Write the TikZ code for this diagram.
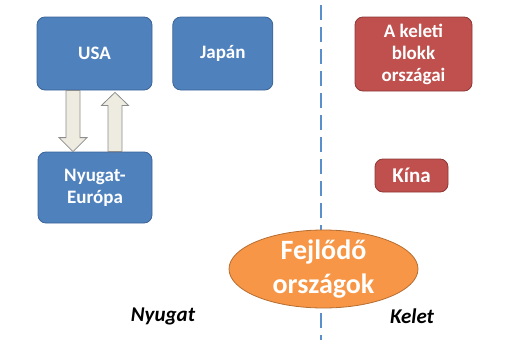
\documentclass[tikz,border=0pt]{standalone}
\usepackage{fontspec}
\setmainfont{Carlito}
\usepackage{xcolor}
\usetikzlibrary{positioning,calc,shapes.geometric}

\definecolor{boxblue}{HTML}{4F81BD}
\definecolor{boxblueline}{HTML}{3A6497}
\definecolor{boxred}{HTML}{C0504D}
\definecolor{boxredline}{HTML}{8C3836}
\definecolor{ovalorange}{HTML}{F79646}
\definecolor{ovalline}{HTML}{B66D31}
\definecolor{arrfill}{HTML}{EEECE1}
\definecolor{arrline}{HTML}{8C8C8C}
\definecolor{divblue}{HTML}{5B8FCB}

\begin{document}
\begin{tikzpicture}[x=1pt, y=-1pt, node distance=0pt]
    \tikzset{
      blk/.style={draw=boxblueline, fill=boxblue, rounded corners=8pt,
                  line width=0.8pt, text=white, align=center, inner sep=2pt,
                  font=\bfseries\fontsize{19}{22}\selectfont},
      redblk/.style={blk, draw=boxredline, fill=boxred},
      oval/.style={ellipse, draw=ovalline, fill=ovalorange, line width=0.8pt,
                   text=white, align=center, inner xsep=0pt, inner ysep=-8pt,
                   font=\bfseries\fontsize{28}{34}\selectfont},
      side/.style={font=\bfseries\itshape\fontsize{21}{24}\selectfont},
      blockarr/.style={draw=arrline, fill=arrfill, line width=0.8pt},
      divider/.style={draw=divblue, line width=1.6pt, dash pattern=on 15pt off 7pt},
    }
    \useasboundingbox (0,0) rectangle (515,340);

    % dividing line west / east
    \coordinate (divtop) at (321,5);
    \coordinate (divbot) at (321,340);
    \draw[divider] (divtop) -- (divbot);

    \node[blk, minimum width=115pt, minimum height=73pt] (usa) at (94.5,53.5) {USA};
    \node[blk, minimum width=100pt, minimum height=73pt, right=20pt of usa] (japan) {Japán};
    \node[blk, minimum width=114pt, minimum height=71pt] (nyeu) at (95,187.5) {Nyugat-\\Európa};

    \node[redblk, minimum width=117pt, minimum height=74pt] (keleti) at (413.5,54) {A keleti\\blokk\\országai};
    \node[redblk, minimum width=73pt, minimum height=33pt,
          font=\bfseries\fontsize{21}{24}\selectfont] (kina) at (411.5,175.5) {Kína};

    \node[oval, minimum width=189pt, minimum height=78pt] (fejl) at (323.5,269) {Fejlődő\\országok};

    \node[side] (nyugat) at (163,316) {Nyugat};
    \node[side] (kelet) at (412,316) {Kelet};

    % block arrows between USA and Western Europe
    \coordinate (dn) at ($(usa.south)+(-21.5,0)$);
    \coordinate (up) at ($(usa.south)+(20.5,2)$);
    \draw[blockarr] ($(dn)+(-7,0)$) -- ($(dn |- nyeu.north)+(-7,-14)$) -- ++(-7,0)
      -- (dn |- nyeu.north) -- ++(14,-14) -- ++(-7,0) -- ($(dn)+(7,0)$) -- cycle;
    \draw[blockarr] ($(up |- nyeu.north)+(-7,0)$) -- ($(up)+(-7,13)$) -- ++(-6.5,0)
      -- (up) -- ++(13.5,13) -- ++(-6.5,0) -- ($(up |- nyeu.north)+(7,0)$) -- cycle;
\end{tikzpicture}
\end{document}
